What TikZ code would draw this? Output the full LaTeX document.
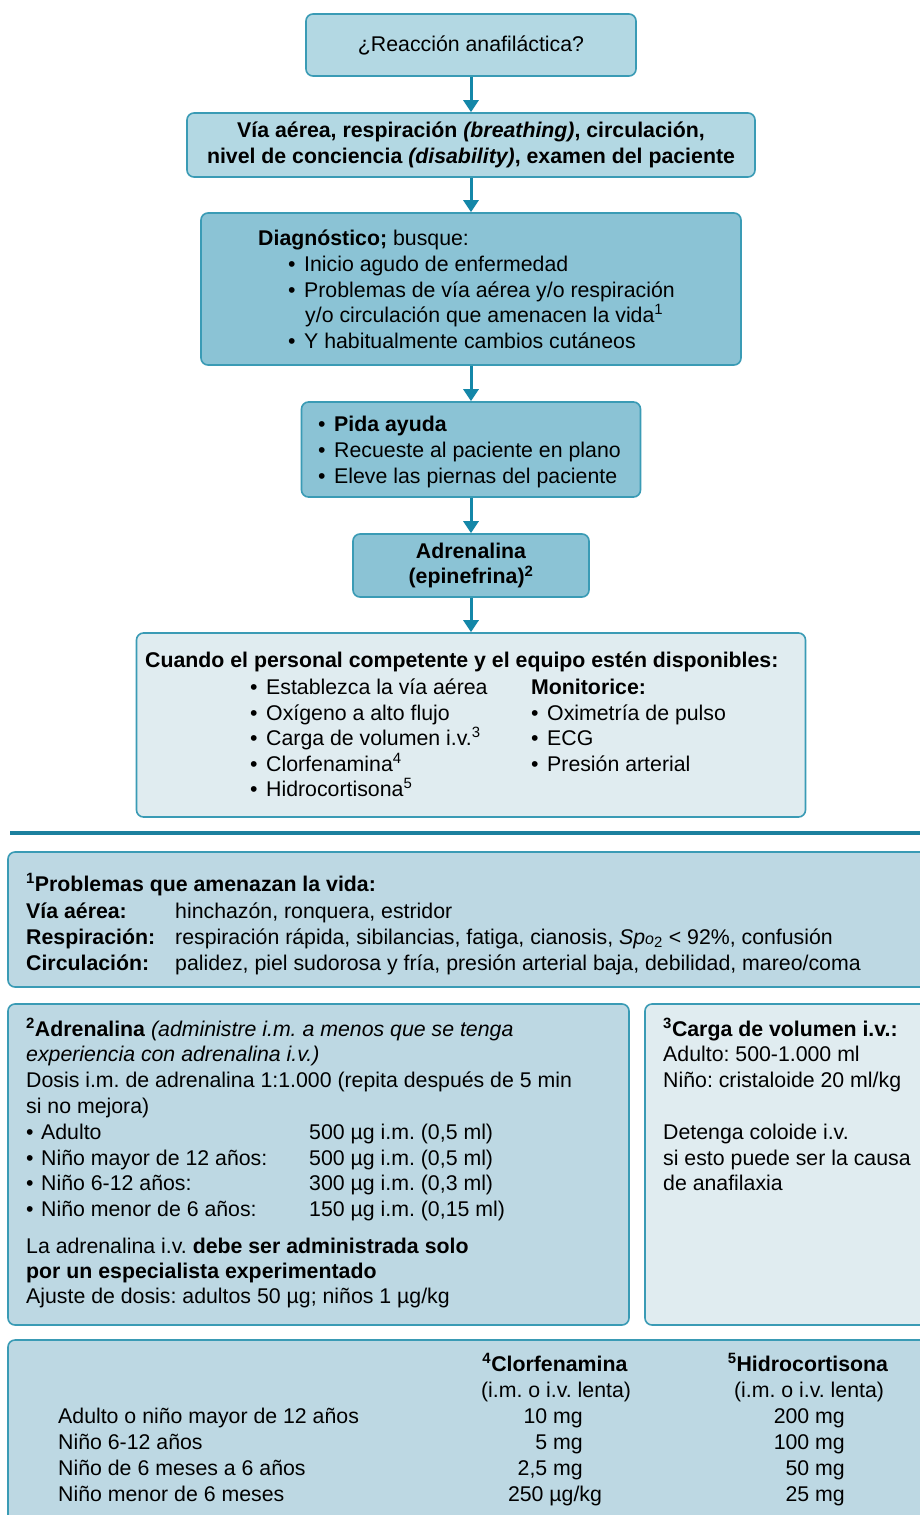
\documentclass[tikz,border=0pt]{standalone}
\usepackage{fontspec}
\setmainfont{Liberation Sans}
\usetikzlibrary{arrows.meta}
\definecolor{lightfill}{HTML}{B3D8E3}
\definecolor{darkfill}{HTML}{8BC3D5}
\definecolor{palefill}{HTML}{E0ECF0}
\definecolor{notefill}{HTML}{BDD8E3}
\definecolor{boxline}{HTML}{3A9BB5}
\definecolor{arrowcol}{HTML}{1487A8}
\definecolor{sepcol}{HTML}{1C809E}
\newcommand\fsz{\fontsize{21.3}{25.7}\selectfont\frenchspacing}
\newcommand\bul{\makebox[16pt][l]{•}}
\newcommand\bulb{\makebox[15pt][l]{•}}
\tikzset{
  basebox/.style={draw=boxline, line width=1.6pt, rounded corners=7pt, inner sep=0pt},
  topbox/.style={basebox, fill=lightfill},
  flowbox/.style={basebox, fill=darkfill},
  palebox/.style={basebox, fill=palefill},
  notebox/.style={basebox, fill=notefill},
  arr/.style={draw=arrowcol, line width=3pt, -{Triangle[width=15pt,length=12pt]}},
  txt/.style={anchor=base west, inner sep=0pt, font=\fsz},
  etxt/.style={anchor=base east, inner sep=0pt, font=\fsz},
  mtxt/.style={anchor=base, inner sep=0pt, font=\fsz},
}
\begin{document}
\begin{tikzpicture}[x=1pt,y=-1pt]
\useasboundingbox (0,0) rectangle (920,1515);
\clip (0,0) rectangle (920,1515);
\fill[white] (0,0) rectangle (920,1515);

% ---- flowchart boxes
\node[topbox, minimum width=330pt, minimum height=62pt, font=\fsz] (b1) at (471,45) {¿Reacción anafiláctica?};
\node[topbox, minimum width=568pt, minimum height=64pt, font=\fsz\bfseries, align=center] (b2) at (471,145)
  {Vía aérea, respiración \textit{(breathing)}, circulación,\\nivel de conciencia \textit{(disability)}, examen del paciente};
\node[flowbox, minimum width=540pt, minimum height=152pt] (b3) at (471,289) {};
\node[flowbox, minimum width=339pt, minimum height=95pt] (b4) at (471,449.5) {};
\node[flowbox, minimum width=236pt, minimum height=63pt, font=\fsz\bfseries, align=center] (b5) at (471,565.5)
  {Adrenalina\\(epinefrina)\textsuperscript{2}};
\node[palebox, minimum width=669pt, minimum height=184pt] (b6) at (471,725) {};

\draw[arr] (b1.south) -- (b2.north);
\draw[arr] (b2.south) -- (b3.north);
\draw[arr] (b3.south) -- (b4.north);
\draw[arr] (b4.south) -- (b5.north);
\draw[arr] (b5.south) -- (b6.north);

% ---- box 3 text
\node[txt] at (258,245) {\textbf{Diagnóstico;} busque:};
\node[txt] at (288,271) {\bul Inicio agudo de enfermedad};
\node[txt] at (288,297) {\bul Problemas de vía aérea y/o respiración};
\node[txt] at (305,322) {y/o circulación que amenacen la vida\textsuperscript{1}};
\node[txt] at (288,348) {\bul Y habitualmente cambios cutáneos};

% ---- box 4 text
\node[txt] at (318,431) {\bul\textbf{Pida ayuda}};
\node[txt] at (318,457) {\bul Recueste al paciente en plano};
\node[txt] at (318,483) {\bul Eleve las piernas del paciente};

% ---- box 6 text
\node[txt] at (145,667) {\textbf{Cuando el personal competente y el equipo estén disponibles:}};
\node[txt] at (250,694) {\bul Establezca la vía aérea};
\node[txt] at (250,720) {\bul Oxígeno a alto flujo};
\node[txt] at (250,745) {\bul Carga de volumen i.v.\textsuperscript{3}};
\node[txt] at (250,771) {\bul Clorfenamina\textsuperscript{4}};
\node[txt] at (250,796) {\bul Hidrocortisona\textsuperscript{5}};
\node[txt] at (531,694) {\textbf{Monitorice:}};
\node[txt] at (531,720) {\bul Oximetría de pulso};
\node[txt] at (531,745) {\bul ECG};
\node[txt] at (531,771) {\bul Presión arterial};

% ---- separator
\coordinate (sepL) at (10,833);
\coordinate (sepR) at (930,833);
\draw[sepcol, line width=4pt] (sepL) -- (sepR);

% ---- footnote 1
\node[notebox, minimum width=940pt, minimum height=135pt] (n1) at (478,919.5) {};
\node[txt] at (26,891) {\textbf{\textsuperscript{1}Problemas que amenazan la vida:}};
\node[txt] at (26,918) {\textbf{Vía aérea:}};
\node[txt] at (175,918) {hinchazón, ronquera, estridor};
\node[txt] at (26,944) {\textbf{Respiración:}};
\node[txt] at (175,944) {respiración rápida, sibilancias, fatiga, cianosis, \textit{Sp}{\fontsize{16}{16}\selectfont\itshape o}\textsubscript{2} < 92\%, confusión};
\node[txt] at (26,970) {\textbf{Circulación:}};
\node[txt] at (175,970) {palidez, piel sudorosa y fría, presión arterial baja, debilidad, mareo/coma};

% ---- footnote 2
\node[notebox, minimum width=621pt, minimum height=321pt] (n2) at (318.5,1164.5) {};
\node[txt] at (26,1036) {\textbf{\textsuperscript{2}Adrenalina} \textit{(administre i.m. a menos que se tenga}};
\node[txt] at (26,1061) {\textit{experiencia con adrenalina i.v.)}};
\node[txt] at (26,1087) {Dosis i.m. de adrenalina 1:1.000 (repita después de 5 min};
\node[txt] at (26,1113) {si no mejora)};
\node[txt] at (26,1139) {\bulb Adulto};
\node[txt] at (309,1139) {500 µg i.m. (0,5 ml)};
\node[txt] at (26,1165) {\bulb Niño mayor de 12 años:};
\node[txt] at (309,1165) {500 µg i.m. (0,5 ml)};
\node[txt] at (26,1190) {\bulb Niño 6-12 años:};
\node[txt] at (309,1190) {300 µg i.m. (0,3 ml)};
\node[txt] at (26,1216) {\bulb Niño menor de 6 años:};
\node[txt] at (309,1216) {150 µg i.m. (0,15 ml)};
\node[txt] at (26,1253) {La adrenalina i.v. \textbf{debe ser administrada solo}};
\node[txt] at (26,1278) {\textbf{por un especialista experimentado}};
\node[txt] at (26,1303) {Ajuste de dosis: adultos 50 µg; niños 1 µg/kg};

% ---- footnote 3
\node[palebox, minimum width=295pt, minimum height=321pt] (n3) at (792.5,1164.5) {};
\node[txt] at (663,1036) {\textbf{\textsuperscript{3}Carga de volumen i.v.:}};
\node[txt] at (663,1061) {Adulto: 500-1.000 ml};
\node[txt] at (663,1087) {Niño: cristaloide 20 ml/kg};
\node[txt] at (663,1139) {Detenga coloide i.v.};
\node[txt] at (663,1165) {si esto puede ser la causa};
\node[txt] at (663,1190) {de anafilaxia};

% ---- table box
\node[notebox, minimum width=940pt, minimum height=200pt] (n4) at (478,1440) {};
\node[mtxt] at (555,1371) {\textbf{\textsuperscript{4}Clorfenamina}};
\node[mtxt] at (808,1371) {\textbf{\textsuperscript{5}Hidrocortisona}};
\node[mtxt] at (556,1397) {(i.m. o i.v. lenta)};
\node[mtxt] at (809,1397) {(i.m. o i.v. lenta)};
\node[txt] at (58,1423) {Adulto o niño mayor de 12 años};
\node[txt] at (58,1449) {Niño 6-12 años};
\node[txt] at (58,1475) {Niño de 6 meses a 6 años};
\node[txt] at (58,1501) {Niño menor de 6 meses};
\node[etxt] at (583,1423) {10 mg};
\node[etxt] at (583,1449) {5 mg};
\node[etxt] at (583,1475) {2,5 mg};
\node[mtxt] at (555,1501) {250 µg/kg};
\node[etxt] at (845,1423) {200 mg};
\node[etxt] at (845,1449) {100 mg};
\node[etxt] at (845,1475) {50 mg};
\node[etxt] at (845,1501) {25 mg};
\end{tikzpicture}
\end{document}
